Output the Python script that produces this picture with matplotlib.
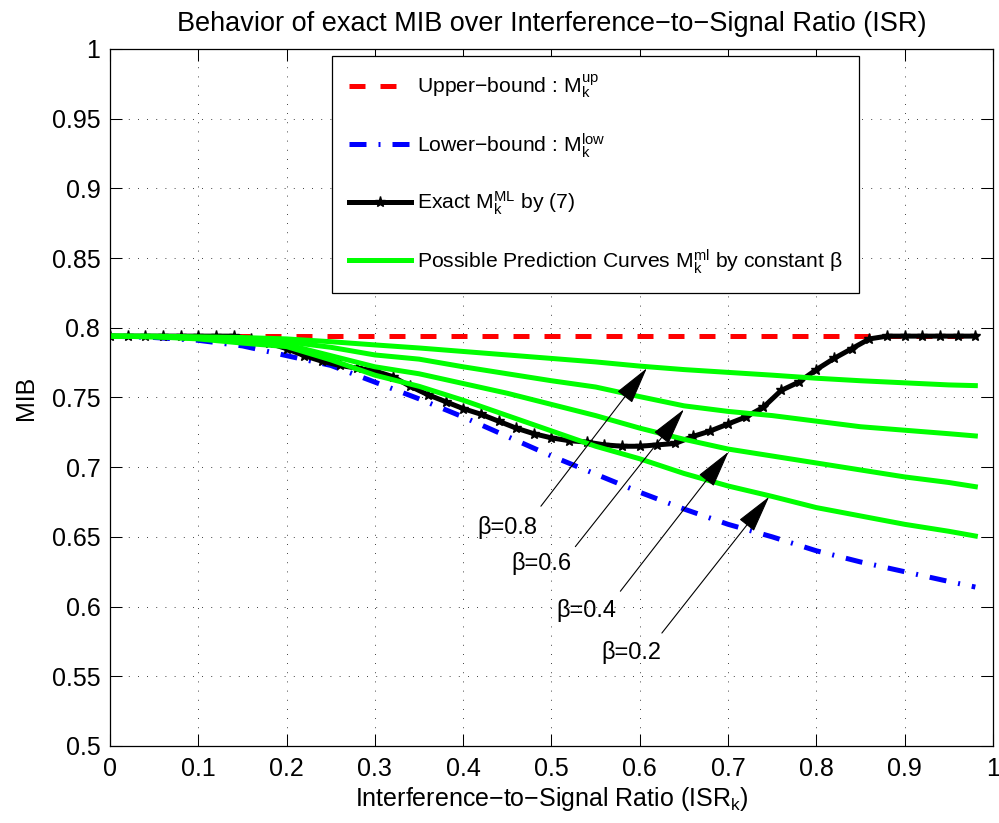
import numpy as np
import matplotlib
matplotlib.use('Agg')
import matplotlib.pyplot as plt

plt.rcParams['font.family'] = ['Liberation Sans', 'DejaVu Sans']
plt.rcParams['mathtext.fontset'] = 'custom'
plt.rcParams['mathtext.rm'] = 'Liberation Sans'

# exact MIB, sampled every 0.02
x_exact = np.round(np.arange(0, 0.99, 0.02), 2)
mib_exact = [0.794, 0.794, 0.794, 0.794, 0.794, 0.794, 0.794, 0.794, 0.792, 0.789,
             0.785, 0.780, 0.776, 0.773, 0.771, 0.769, 0.765, 0.758, 0.752, 0.747,
             0.742, 0.738, 0.733, 0.728, 0.724, 0.721, 0.719, 0.718, 0.716, 0.715,
             0.715, 0.716, 0.717, 0.722, 0.726, 0.731, 0.736, 0.743, 0.755, 0.761,
             0.770, 0.778, 0.785, 0.792, 0.794, 0.794, 0.794, 0.794, 0.794, 0.794]

# bounds and prediction curves
x_curve = [0, 0.05, 0.1, 0.15, 0.2, 0.25, 0.3, 0.35, 0.4, 0.45, 0.5,
           0.55, 0.6, 0.65, 0.7, 0.75, 0.8, 0.85, 0.9, 0.95, 0.98]
upper = 0.794
lower = [0.794, 0.793, 0.791, 0.787, 0.780, 0.773, 0.761, 0.749, 0.736, 0.722, 0.708,
         0.695, 0.682, 0.670, 0.659, 0.650, 0.640, 0.632, 0.625, 0.618, 0.614]
beta_08 = [0.794, 0.794, 0.7935, 0.793, 0.792, 0.790, 0.7877, 0.7855, 0.783, 0.7805, 0.778,
           0.7755, 0.7725, 0.770, 0.768, 0.766, 0.7638, 0.762, 0.7605, 0.759, 0.7585]
beta_06 = [0.794, 0.7938, 0.793, 0.792, 0.790, 0.786, 0.7805, 0.7775, 0.772, 0.767, 0.762,
           0.7575, 0.7506, 0.744, 0.740, 0.737, 0.733, 0.729, 0.7265, 0.724, 0.7224]
beta_04 = [0.794, 0.7935, 0.7925, 0.7905, 0.788, 0.780, 0.772, 0.767, 0.760, 0.753, 0.745,
           0.737, 0.728, 0.720, 0.713, 0.708, 0.703, 0.698, 0.693, 0.689, 0.686]
beta_02 = [0.794, 0.7935, 0.792, 0.789, 0.7865, 0.777, 0.766, 0.758, 0.748, 0.737, 0.726,
           0.715, 0.706, 0.6955, 0.6865, 0.679, 0.671, 0.665, 0.659, 0.654, 0.6506]

# annotation: label, text pos, arrow start, arrow tip
beta_labels = ['\u03b2=0.8', '\u03b2=0.6', '\u03b2=0.4', '\u03b2=0.2']
label_pos = [(0.450, 0.657), (0.489, 0.631), (0.540, 0.597), (0.590, 0.567)]
arrow_from = [(0.488, 0.672), (0.527, 0.643), (0.578, 0.611), (0.625, 0.581)]
arrow_to = [(0.608, 0.771), (0.650, 0.7415), (0.7006, 0.7111), (0.7465, 0.6788)]

fig = plt.figure(figsize=(9.99, 8.23), dpi=100)
ax = fig.add_axes([0.1101, 0.0936, 0.8839, 0.8469])

ax.plot(x_curve, [upper] * len(x_curve), color='r', lw=3.6, dashes=(3.2, 3.0),
        label='Upper\u2212bound : $\\mathregular{M_k^{up}}$')
ax.plot(x_curve, lower, color='b', lw=3.6, dashes=(3.4, 2.4, 0.4, 2.4),
        label='Lower\u2212bound : $\\mathregular{M_k^{low}}$')
ax.plot(x_exact, mib_exact, color='k', lw=3.6, marker='*', ms=8,
        label='Exact $\\mathregular{M_k^{ML}}$ by (7)')
for i, ys in enumerate([beta_08, beta_06, beta_04, beta_02]):
    ax.plot(x_curve, ys, color='#00ff00', lw=3.6,
            label='Possible Prediction Curves $\\mathregular{M_k^{ml}}$ by constant \u03b2' if i == 0 else None)

for lab, tp, a0, a1 in zip(beta_labels, label_pos, arrow_from, arrow_to):
    ax.annotate('', xy=a1, xytext=a0,
                arrowprops=dict(arrowstyle='-|>,head_length=1.2,head_width=0.3', color='k',
                                lw=0.8, mutation_scale=20, shrinkA=0, shrinkB=0))
    ax.text(tp[0], tp[1], lab, fontsize=17, ha='center', va='center')

ax.set_xlim(0, 1)
ax.set_ylim(0.5, 1)
ax.set_xticks(np.round(np.arange(0, 1.01, 0.1), 1))
ax.set_xticklabels(['0', '0.1', '0.2', '0.3', '0.4', '0.5', '0.6', '0.7', '0.8', '0.9', '1'])
ax.set_yticks(np.round(np.arange(0.5, 1.001, 0.05), 2))
ax.set_yticklabels(['0.5', '0.55', '0.6', '0.65', '0.7', '0.75', '0.8', '0.85', '0.9', '0.95', '1'])
ax.tick_params(direction='in', length=8.5, width=0.75, top=True, right=True, labelsize=18)
ax.tick_params(axis='x', pad=8)
ax.tick_params(axis='y', pad=7)
ax.grid(True, color='k', linestyle=(0, (1, 10)), lw=0.6)
for s in ax.spines.values():
    s.set_linewidth(0.9)

ax.set_title('Behavior of exact MIB over Interference\u2212to\u2212Signal Ratio (ISR)', fontsize=19.5, pad=13)
ax.set_xlabel('Interference\u2212to\u2212Signal Ratio ($\\mathregular{ISR_k}$)', fontsize=18, labelpad=3)
ax.set_ylabel('MIB', fontsize=18, labelpad=10)

leg = ax.legend(loc='upper left', bbox_to_anchor=(0.251, 0.99), borderaxespad=0, fontsize=15.2,
                handlelength=2.95, numpoints=1, fancybox=False, framealpha=1, edgecolor='k',
                labelspacing=1.42, borderpad=0.8, handletextpad=0.3)
leg.get_frame().set_linewidth(0.9)

fig.savefig('out.png', dpi=100)
